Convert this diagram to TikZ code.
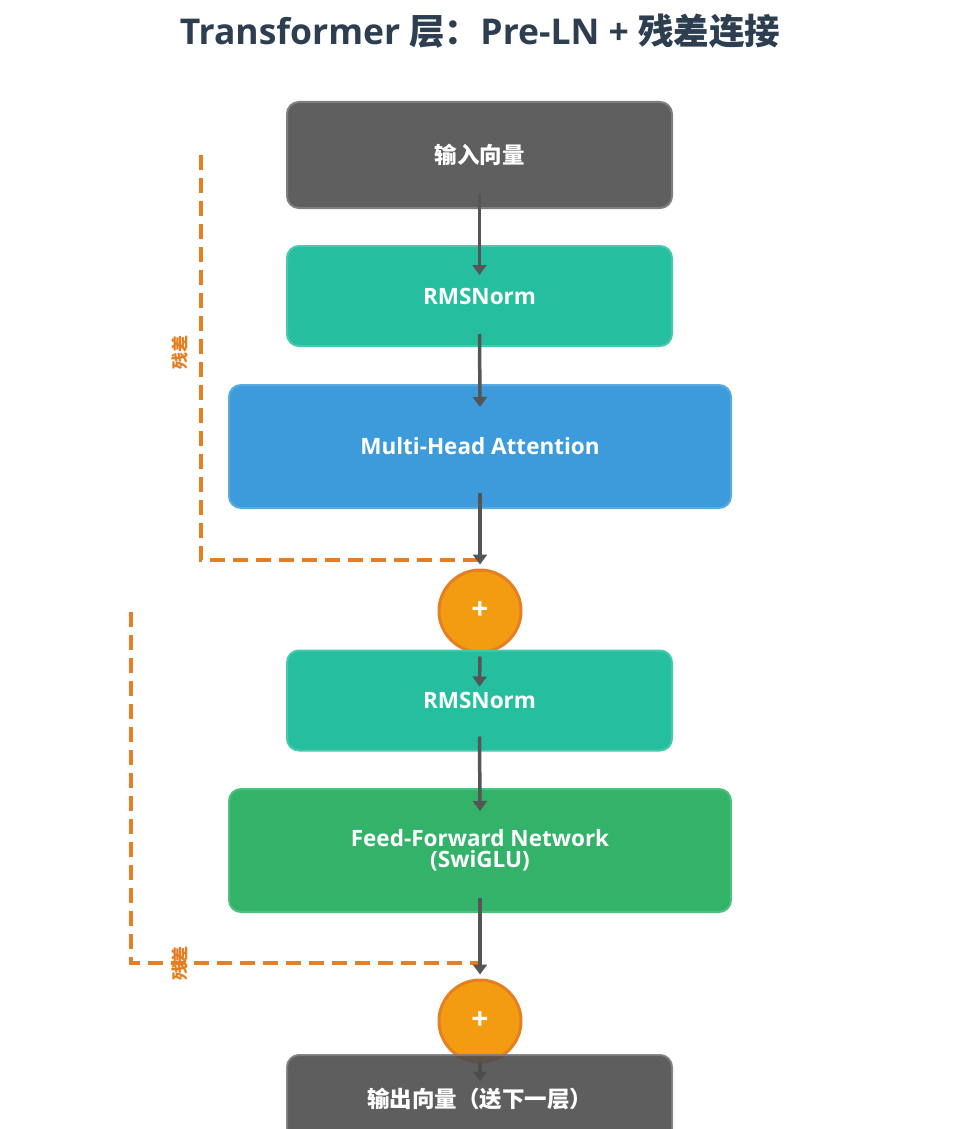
\documentclass[tikz,border=0pt]{standalone}
\usepackage{fontspec}
\setmainfont{Open Sans}
\newfontfamily\cjk{Noto Sans CJK SC}
\usetikzlibrary{arrows.meta}
\definecolor{dgray}{HTML}{5F5F5F}
\definecolor{dgrayb}{HTML}{4D4D4D}
\definecolor{teal}{HTML}{25BF9F}
\definecolor{blu}{HTML}{3D9BDB}
\definecolor{grn}{HTML}{33B26A}
\definecolor{orf}{HTML}{F39C12}
\definecolor{ord}{HTML}{E67E22}
\definecolor{arr}{HTML}{555555}
\definecolor{ttl}{HTML}{2C3E50}
\tikzset{
  box/.style={rectangle, rounded corners=12pt, line width=2pt, text=white,
    font=\bfseries\fontsize{22.5}{21}\selectfont, align=center, inner sep=0pt},
  smallbox/.style={box, minimum width=385pt, minimum height=100pt},
  bigbox/.style={box, minimum width=502pt, minimum height=123pt},
  plus/.style={circle, minimum size=82pt, inner sep=0pt, fill=orf, draw=ord,
    line width=3pt, text=white, font=\bfseries\fontsize{30}{30}\selectfont},
  flow/.style={draw=arr, line width=3.5pt, -{Triangle[length=10pt,width=14pt]}},
  resid/.style={draw=ord, line width=3.5pt, dash pattern=on 15pt off 8pt},
  reslabel/.style={text=ord, font=\cjk\bfseries\fontsize{17}{17}\selectfont, rotate=90}
}
\begin{document}
\begin{tikzpicture}[x=1pt,y=-1pt]
\useasboundingbox (0,0) rectangle (959,1129);
\clip (0,0) rectangle (959,1129);
\fill[white] (0,0) rectangle (959,1129);

\node[text=ttl, font=\bfseries\fontsize{35.5}{35.5}\selectfont] (title) at (480,31)
  {Transformer {\cjk 层：}Pre-LN + {\cjk 残差连接}};

\node[smallbox, fill=dgray, draw=dgray!80!white, minimum height=106pt] (in) at (479.5,155) {\cjk 输入向量};
\node[smallbox, fill=teal, draw=teal!85!white] (n1) at (479.5,296) {RMSNorm};
\node[bigbox, fill=blu, draw=blu!85!white] (mha) at (480,446.5) {Multi-Head Attention};
\node[plus] (p1) at (480,611) {+};
\node[smallbox, fill=teal, draw=teal!85!white] (n2) at (479.5,700.5) {RMSNorm};
\node[bigbox, fill=grn, draw=grn!85!white] (ffn) at (480,850.5) {Feed-Forward Network\\(SwiGLU)};
\node[plus] (p2) at (480,1021) {+};

% residual connections
\coordinate (r1) at (201,155);
\coordinate (r2) at (131,612);
\draw[resid] (r1) |- ([yshift=8.5pt]p1.north);
\draw[resid] (r2) |- ([yshift=15.5pt]p2.north);
\node[reslabel] (l1) at (180,352) {残差};
\node[reslabel] (l2) at (180,963) {残差};

% main flow
\draw[flow] ([yshift=15pt]in.south) -- ([yshift=-30pt]n1.north);
\draw[flow] ([yshift=13pt]n1.south) -- ([yshift=-23pt]mha.north);
\draw[flow] ([yshift=16pt]mha.south) -- ([yshift=4pt]p1.north);
\draw[flow] ([yshift=-3pt]p1.south) -- ([yshift=-37pt]n2.north);
\draw[flow] ([yshift=15pt]n2.south) -- ([yshift=-23pt]ffn.north);
\draw[flow] ([yshift=15pt]ffn.south) -- ([yshift=4pt]p2.north);
\draw[flow] ([yshift=2pt]p2.south) -- ++(0,20);

\node[smallbox, fill=dgrayb, draw=dgray!80!white, fill opacity=0.9, draw opacity=0.9, text opacity=1, minimum height=88pt] (out) at (479.5,1099) {{\cjk 输出向量（送下一层）}};
\end{tikzpicture}
\end{document}
